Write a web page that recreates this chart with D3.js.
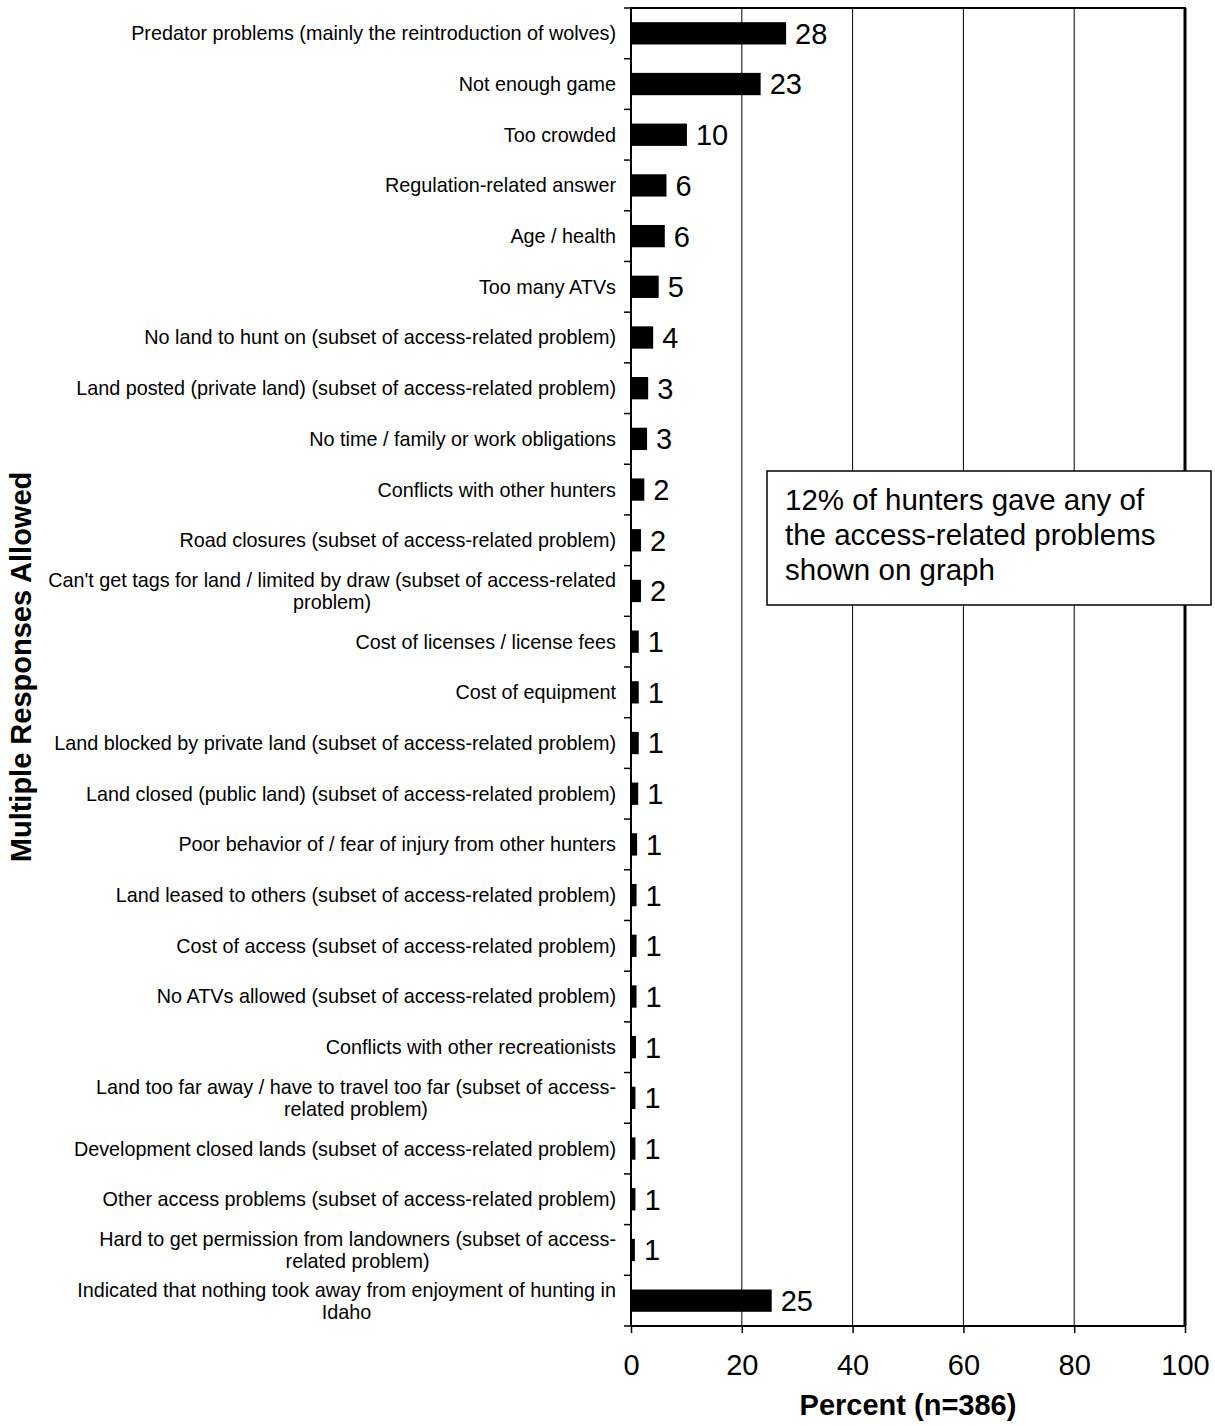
<!DOCTYPE html>
<html>
<head>
<meta charset="utf-8">
<script src="https://cdn.jsdelivr.net/npm/d3@7"></script>
<style>
  body { margin: 0; background: #fff; }
  svg { font-family: "Liberation Sans", Arial, sans-serif; }
</style>
</head>
<body>
<div id="container"></div>
<script>
// Things that took away from enjoyment of hunting in Idaho
// Multiple responses allowed, percent of hunters (n=386)

//### DATA ###
const categories = [
  ['Predator problems (mainly the reintroduction of wolves)'],
  ['Not enough game'],
  ['Too crowded'],
  ['Regulation-related answer'],
  ['Age / health'],
  ['Too many ATVs'],
  ['No land to hunt on (subset of access-related problem)'],
  ['Land posted (private land) (subset of access-related problem)'],
  ['No time / family or work obligations'],
  ['Conflicts with other hunters'],
  ['Road closures (subset of access-related problem)'],
  ["Can't get tags for land / limited by draw (subset of access-related", 'problem)'],
  ['Cost of licenses / license fees'],
  ['Cost of equipment'],
  ['Land blocked by private land (subset of access-related problem)'],
  ['Land closed (public land) (subset of access-related problem)'],
  ['Poor behavior of / fear of injury from other hunters'],
  ['Land leased to others (subset of access-related problem)'],
  ['Cost of access (subset of access-related problem)'],
  ['No ATVs allowed (subset of access-related problem)'],
  ['Conflicts with other recreationists'],
  ['Land too far away / have to travel too far (subset of access-', 'related problem)'],
  ['Development closed lands (subset of access-related problem)'],
  ['Other access problems (subset of access-related problem)'],
  ['Hard to get permission from landowners (subset of access-', 'related problem)'],
  ['Indicated that nothing took away from enjoyment of hunting in', 'Idaho']
];
const values = [28.0, 23.4, 10.1, 6.4, 6.1, 5.0, 4.0, 3.1, 2.9, 2.4, 1.8, 1.8, 1.4,
  1.4, 1.4, 1.3, 1.1, 1.0, 1.0, 1.0, 0.9, 0.8, 0.8, 0.8, 0.7, 25.4];
const xTicks = [0, 20, 40, 60, 80, 100];
const xTitle = 'Percent (n=386)';
const yTitle = 'Multiple Responses Allowed';
const noteLines = ['12% of hunters gave any of', 'the access-related problems', 'shown on graph'];


//### LAYOUT ###
const width = 1215;
const height = 1426;
const plot = { left: 631, right: 1185, top: 8, bottom: 1326 };

const svg = d3.select('#container')
  .append('svg')
  .attr('width', width)
  .attr('height', height);

const rows = categories.map((c, i) => ({ lines: c, value: values[i], i }));

//>>> Scales
const x = d3.scaleLinear().domain([0, 100]).range([plot.left, plot.right]);
const y = d3.scaleBand()
  .domain(d3.range(rows.length))
  .range([plot.top, plot.bottom])
  .paddingInner(0.56)
  .paddingOuter(0.28);
const step = y.step();

//>>> Gridlines
svg.append('g')
  .selectAll('line')
  .data(xTicks.slice(1, -1))
  .join('line')
  .attr('x1', d => x(d)).attr('x2', d => x(d))
  .attr('y1', plot.top).attr('y2', plot.bottom)
  .attr('stroke', '#000')
  .attr('stroke-width', 1);

//>>> Bars
svg.append('g')
  .selectAll('rect')
  .data(rows)
  .join('rect')
  .attr('x', x(0))
  .attr('y', d => y(d.i))
  .attr('width', d => x(d.value) - x(0))
  .attr('height', y.bandwidth())
  .attr('fill', '#000');

//>>> Value labels
svg.append('g')
  .selectAll('text')
  .data(rows)
  .join('text')
  .attr('x', d => x(d.value) + 9)
  .attr('y', d => y(d.i) + y.bandwidth() / 2)
  .attr('dy', '0.36em')
  .style('font-size', '29px')
  .text(d => Math.round(d.value));

//>>> Plot frame
svg.append('rect')
  .attr('x', plot.left)
  .attr('y', plot.top)
  .attr('width', plot.right - plot.left)
  .attr('height', plot.bottom - plot.top)
  .attr('fill', 'none')
  .attr('stroke', '#000')
  .attr('stroke-width', 2);
svg.append('line')
  .attr('x1', plot.right).attr('x2', plot.right)
  .attr('y1', plot.top).attr('y2', plot.bottom)
  .attr('stroke', '#000').attr('stroke-width', 3);

//>>> Y axis ticks (band edges)
svg.append('g')
  .selectAll('line')
  .data(d3.range(rows.length + 1))
  .join('line')
  .attr('x1', plot.left - 7).attr('x2', plot.left)
  .attr('y1', d => plot.top + d * step).attr('y2', d => plot.top + d * step)
  .attr('stroke', '#000').attr('stroke-width', 1.5);

//>>> X axis
const xAxis = svg.append('g')
  .attr('transform', `translate(0, ${plot.bottom})`)
  .call(d3.axisBottom(x).tickValues(xTicks).tickSize(7).tickPadding(21));
xAxis.select('.domain').remove();
xAxis.selectAll('line').attr('stroke-width', 1.5);
xAxis.selectAll('text')
  .style('font-size', '29px')
  .style('font-family', '"Liberation Sans", Arial, sans-serif');

//>>> Category labels (multi-line blocks are centred, block right-aligned)
const labelRight = 616;
const labels = svg.append('g')
  .selectAll('text')
  .data(rows)
  .join('text')
  .style('font-size', '19.8px');

labels.each(function (d) {
  const g = d3.select(this);
  const cy = y(d.i) + y.bandwidth() / 2;
  if (d.lines.length === 1) {
    g.attr('text-anchor', 'end')
      .attr('x', labelRight)
      .attr('y', cy)
      .attr('dy', '0.35em')
      .text(d.lines[0]);
  } else {
    //--- measure the first line to find the block centre
    const probe = g.append('tspan').text(d.lines[0]);
    const w = probe.node().getComputedTextLength();
    probe.remove();
    g.attr('text-anchor', 'middle');
    d.lines.forEach((line, k) => {
      g.append('tspan')
        .attr('x', labelRight - w / 2)
        .attr('y', cy + (k - (d.lines.length - 1) / 2) * 22)
        .attr('dy', '0.35em')
        .text(line);
    });
  }
});

//>>> Axis titles
svg.append('text')
  .attr('x', (plot.left + plot.right) / 2)
  .attr('y', 1415)
  .attr('text-anchor', 'middle')
  .style('font-size', '29px')
  .style('font-weight', 'bold')
  .text(xTitle);

svg.append('text')
  .attr('transform', `translate(31, ${(plot.top + plot.bottom) / 2}) rotate(-90)`)
  .attr('text-anchor', 'middle')
  .style('font-size', '29px')
  .style('font-weight', 'bold')
  .text(yTitle);

//>>> Note box
const note = svg.append('g').attr('transform', 'translate(767, 471)');
note.append('rect')
  .attr('width', 444)
  .attr('height', 134)
  .attr('fill', '#fff')
  .attr('stroke', '#000')
  .attr('stroke-width', 1.5);
note.append('text')
  .style('font-size', '29.5px')
  .selectAll('tspan')
  .data(noteLines)
  .join('tspan')
  .attr('x', 18)
  .attr('y', (d, i) => 39 + i * 35)
  .text(d => d);
</script>
</body>
</html>
